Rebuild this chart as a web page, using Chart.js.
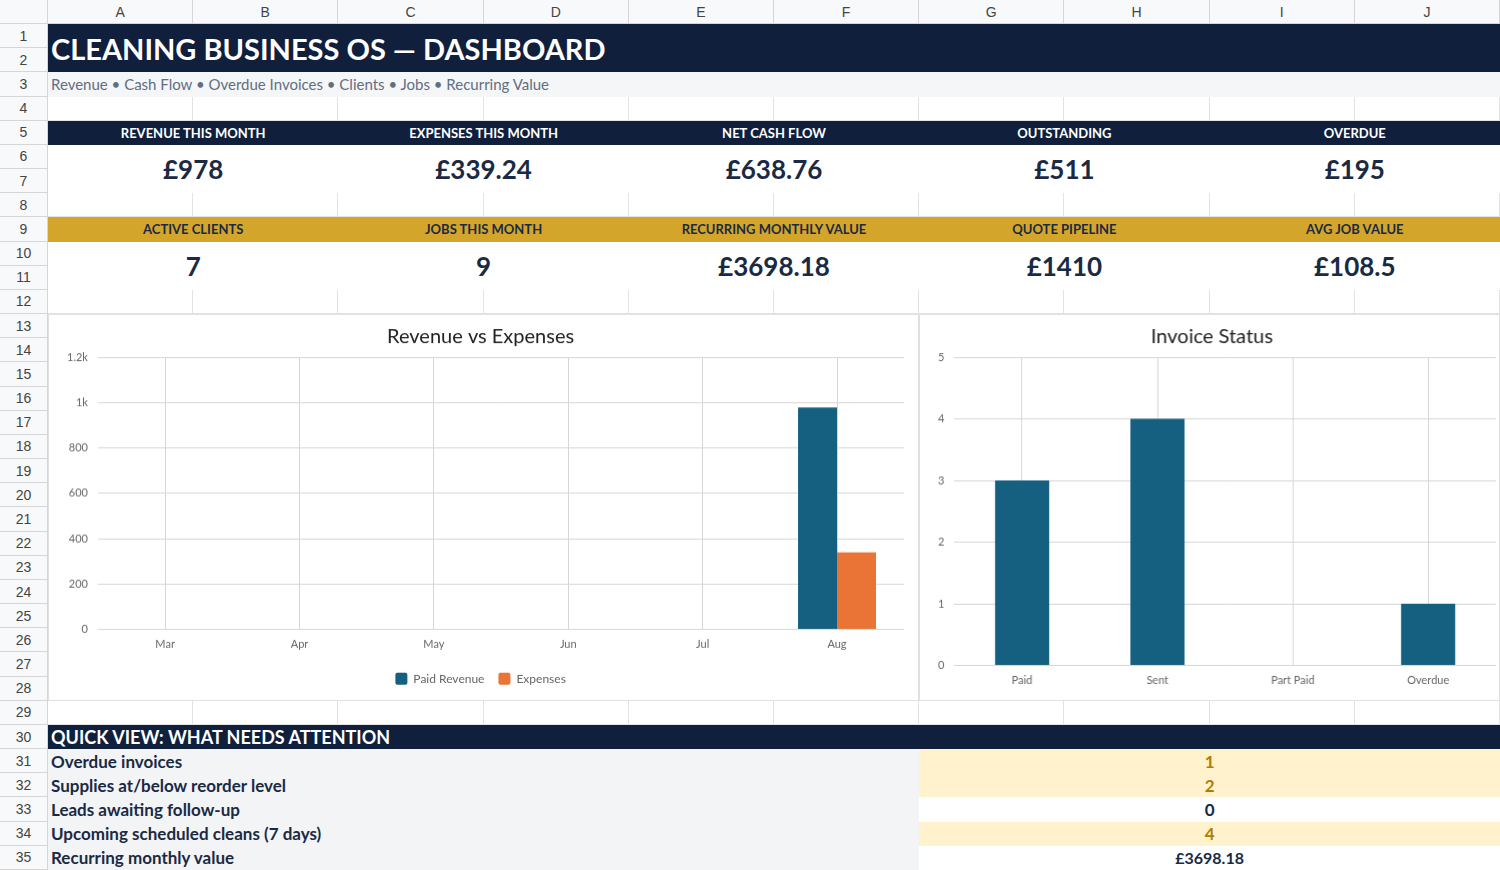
<!DOCTYPE html>
<html lang="en">
<head>
<meta charset="UTF-8">
<title>Cleaning Business OS — Dashboard</title>
<script src="https://cdn.jsdelivr.net/npm/chart.js"></script>
<style>
    body { margin: 0; font-family: Lato, "Open Sans", sans-serif; background: #fff; }
    #sheet {
        width: 1500px; height: 870px; display: grid;
        grid-template-columns: 48px repeat(10, 1fr);
        grid-template-rows: 24px repeat(35, 1fr);
        position: relative; overflow: hidden;
    }
    .c { border-right: 1px solid #e3e3e3; border-bottom: 1px solid #e3e3e3; box-sizing: border-box; }
    .colh { background: #f8f9fa; color: #444; font-family: Arial, sans-serif; font-size: 14px;
            display: flex; align-items: center; justify-content: center; border-color: #d6d6d6; }
    .rowh { background: #f8f9fa; color: #444; font-family: Arial, sans-serif; font-size: 14px;
            display: flex; align-items: center; justify-content: center; border-color: #d6d6d6; }
    .m { display: flex; align-items: center; box-sizing: border-box; z-index: 1; }
    .navy { background: #0f1f3c; color: #fff; }
    .gold { background: #d4a52b; color: #1a2a44; }
    .hdr { justify-content: center; font-weight: 700; font-size: 13px; }
    .val { justify-content: center; font-weight: 700; font-size: 26px; color: #1a2a44; background: #fff; }
    .lbl { background: #f3f4f6; font-weight: 700; font-size: 17px; color: #1a2a44; padding-left: 3px; }
    .q { justify-content: center; font-weight: 700; font-size: 17px; }
    .warn { background: #fff2cc; color: #b07d00; }
    .box { background: #fff; border: 1px solid #e0e0e0; z-index: 1; position: relative; }
</style>
</head>
<body>
<div id="sheet"></div>
<script>
    // KPI values
    const kpiTop = [['REVENUE THIS MONTH', '£978'], ['EXPENSES THIS MONTH', '£339.24'], ['NET CASH FLOW', '£638.76'],
                    ['OUTSTANDING', '£511'], ['OVERDUE', '£195']];
    const kpiBottom = [['ACTIVE CLIENTS', '7'], ['JOBS THIS MONTH', '9'], ['RECURRING MONTHLY VALUE', '£3698.18'],
                       ['QUOTE PIPELINE', '£1410'], ['AVG JOB VALUE', '£108.5']];
    const attention = [['Overdue invoices', '1', true], ['Supplies at/below reorder level', '2', true],
                       ['Leads awaiting follow-up', '0', false], ['Upcoming scheduled cleans (7 days)', '4', true],
                       ['Recurring monthly value', '£3698.18', false]];

    // chart data
    const months = ['Mar', 'Apr', 'May', 'Jun', 'Jul', 'Aug'];
    const paidRevenue = [0, 0, 0, 0, 0, 978];
    const expenses = [0, 0, 0, 0, 0, 339.24];
    const invoiceStatus = ['Paid', 'Sent', 'Part Paid', 'Overdue'];
    const invoiceCounts = [3, 4, 0, 1];

    const sheet = document.getElementById('sheet');
    function cell(col, row, colSpan, rowSpan, cls, html) {
        const d = document.createElement('div');
        d.className = cls;
        d.style.gridColumn = (col + 1) + ' / span ' + colSpan;
        d.style.gridRow = (row + 1) + ' / span ' + rowSpan;
        if (html !== undefined) d.innerHTML = html;
        sheet.appendChild(d);
        return d;
    }
    // base grid
    cell(0, 0, 1, 1, 'c colh', '');
    'ABCDEFGHIJ'.split('').forEach((l, i) => cell(i + 1, 0, 1, 1, 'c colh', l));
    for (let r = 1; r <= 35; r++) {
        cell(0, r, 1, 1, 'c rowh', r);
        for (let k = 1; k <= 10; k++) cell(k, r, 1, 1, 'c', '');
    }
    // title
    cell(1, 1, 10, 2, 'm navy', '<span style="font-size:29px;font-weight:700;padding-left:3px">CLEANING BUSINESS OS — DASHBOARD</span>');
    cell(1, 3, 10, 1, 'm', '<span style="font-size:15px;color:#5f6f82;padding-left:3px">Revenue • Cash Flow • Overdue Invoices • Clients • Jobs • Recurring Value</span>').style.background = '#f5f6f8';

    kpiTop.forEach((k, i) => {
        cell(1 + i * 2, 5, 2, 1, 'm navy hdr', k[0]);
        cell(1 + i * 2, 6, 2, 2, 'm val', k[1]);
    });
    kpiBottom.forEach((k, i) => {
        cell(1 + i * 2, 9, 2, 1, 'm gold hdr', k[0]);
        cell(1 + i * 2, 10, 2, 2, 'm val', k[1]);
    });

    const b1 = cell(1, 13, 6, 16, 'box', '<canvas id="revChart"></canvas>');
    const b2 = cell(7, 13, 4, 16, 'box', '<canvas id="invChart"></canvas>');

    cell(1, 30, 10, 1, 'm navy', '<span style="font-size:18px;font-weight:700;padding-left:3px">QUICK VIEW: WHAT NEEDS ATTENTION</span>');
    attention.forEach((a, i) => {
        cell(1, 31 + i, 6, 1, 'm lbl', a[0]);
        const v = cell(7, 31 + i, 4, 1, 'm q' + (a[2] ? ' warn' : ''), a[1]);
        if (!a[2]) { v.style.background = '#fff'; v.style.color = '#1a2a44'; }
        if (i === 4) v.style.fontSize = '16px';
    });

    Chart.defaults.font.family = 'Lato, sans-serif';
    Chart.defaults.color = '#666';
    Chart.defaults.animation = false;
    const gridStyle = { color: '#d6d6d6', borderDash: [5, 4] };

    new Chart(document.getElementById('revChart'), {
        type: 'bar',
        data: {
            labels: months,
            datasets: [
                { label: 'Paid Revenue', data: paidRevenue, backgroundColor: '#155f80' },
                { label: 'Expenses', data: expenses, backgroundColor: '#e97436' }
            ]
        },
        options: {
            responsive: true, maintainAspectRatio: false,
            layout: { padding: { left: 8, right: 14, top: 4, bottom: 6 } },
            datasets: { bar: { categoryPercentage: 0.58, barPercentage: 1 } },
            plugins: {
                title: { display: true, text: 'Revenue vs Expenses', color: '#222', font: { size: 20, weight: 'normal' }, padding: { top: 6, bottom: 8 } },
                legend: { position: 'bottom', labels: { boxWidth: 12, boxHeight: 12, useBorderRadius: true, borderRadius: 2, font: { size: 12 }, padding: 14 } }
            },
            scales: {
                x: { grid: { ...gridStyle, offset: false, drawTicks: false }, border: { display: false }, ticks: { padding: 8, font: { size: 11 } } },
                y: { min: 0, max: 1200, grid: { ...gridStyle, drawTicks: false }, border: { display: false },
                     ticks: { stepSize: 200, padding: 10, font: { size: 11 },
                              callback: v => v >= 1000 ? (v / 1000) + 'k' : v } }
            }
        }
    });

    new Chart(document.getElementById('invChart'), {
        type: 'bar',
        data: { labels: invoiceStatus, datasets: [{ label: 'Invoices', data: invoiceCounts, backgroundColor: '#155f80' }] },
        options: {
            responsive: true, maintainAspectRatio: false,
            layout: { padding: { left: 8, right: 4, top: 4, bottom: 6 } },
            datasets: { bar: { categoryPercentage: 0.8, barPercentage: 0.5 } },
            plugins: {
                title: { display: true, text: 'Invoice Status', color: '#222', font: { size: 20, weight: 'normal' }, padding: { top: 6, bottom: 8 } },
                legend: { display: false }
            },
            scales: {
                x: { grid: { ...gridStyle, offset: false, drawTicks: false }, border: { display: false }, ticks: { padding: 8, font: { size: 11 } } },
                y: { min: 0, max: 5, grid: { ...gridStyle, drawTicks: false }, border: { display: false },
                     ticks: { stepSize: 1, padding: 10, font: { size: 11 } } }
            }
        }
    });
</script>
</body>
</html>
